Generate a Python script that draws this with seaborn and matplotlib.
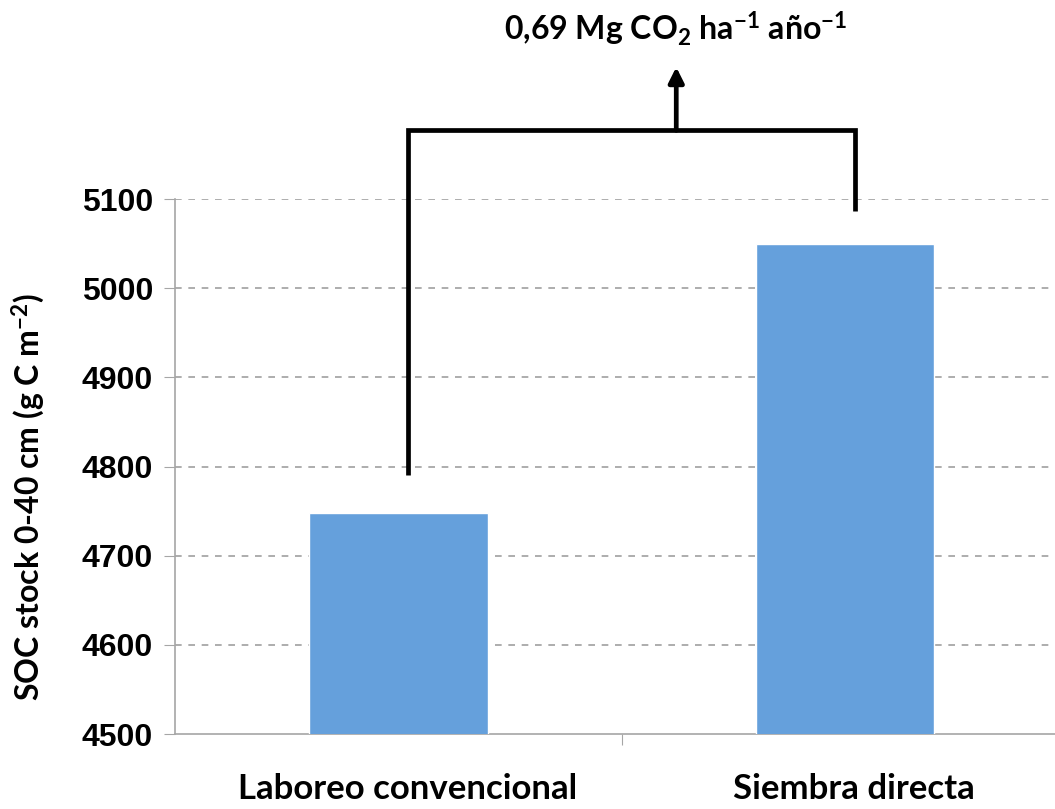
import matplotlib
matplotlib.use("Agg")
import matplotlib.pyplot as plt
import seaborn as sns
import pandas as pd

# data
categories = ["Laboreo convencional", "Siembra directa"]
soc_stock = [4748, 5050]
y_ticks = [4500, 4600, 4700, 4800, 4900, 5000, 5100]

df = pd.DataFrame({"tratamiento": categories, "soc": soc_stock})

sns.set_style("white")
plt.rcParams['font.family'] = ['Lato', 'DejaVu Sans']
plt.rcParams['text.color'] = 'black'
plt.rcParams['axes.labelcolor'] = 'black'
plt.rcParams['ytick.labelcolor'] = 'black'
plt.rcParams['mathtext.fontset'] = 'custom'
plt.rcParams['mathtext.rm'] = 'Lato:bold'
plt.rcParams['mathtext.it'] = 'Lato:bold'
plt.rcParams['mathtext.bf'] = 'Lato:bold'
plt.rcParams['mathtext.default'] = 'rm'

fig = plt.figure(figsize=(10.55, 8.09), dpi=100)
ax = fig.add_axes([0.166, 0.0927, 0.834, 0.6613])

sns.barplot(data=df, x="tratamiento", y="soc", color="#65A0DC",
            saturation=1, width=0.4, ax=ax, zorder=3)

ax.set_ylim(4500, 5100)
ax.set_xlim(-0.5, 1.47)
ax.set_yticks(y_ticks)
ax.set_yticklabels([str(t) for t in y_ticks], family="Liberation Sans",
                   fontweight="bold", fontsize=23, color="black")
ax.set_xticks([0.5])
ax.set_xticklabels([""])
ax.tick_params(axis="y", length=8, color="#A6A6A6", pad=8, left=True)
ax.tick_params(axis="x", length=8, color="#A6A6A6", bottom=True, direction="out")

for t in y_ticks[1:]:
    ax.axhline(t, color="#A0A0A0", linestyle=(0, (4, 4)), linewidth=1.2, zorder=1)

for s in ["top", "right"]:
    ax.spines[s].set_visible(False)
for s in ["left", "bottom"]:
    ax.spines[s].set_color("#A6A6A6")
    ax.spines[s].set_linewidth(1.2)

ax.set_xlabel("")
ax.set_ylabel("SOC stock 0-40 cm (g C m$^{-2}$)", fontsize=23,
              fontweight="bold", color="black")
ax.yaxis.set_label_coords(-0.146, 0.443)

# category labels below the axis
for i, name in enumerate(categories):
    ax.text(i + 0.02, 4500 - 62, name, ha="center", va="center",
            fontsize=25, fontweight="bold", clip_on=False, color="black")

# bracket with arrow
lw = 3.4
ax.plot([0.022, 0.022, 1.022, 1.022], [4790, 5177, 5177, 5087],
        color="black", linewidth=lw, clip_on=False, solid_capstyle="butt",
        solid_joinstyle="miter")
ax.annotate("", xy=(0.622, 5248), xytext=(0.622, 5177),
            arrowprops=dict(arrowstyle="-|>,head_length=0.9,head_width=0.45",
                            color="black", lw=lw, shrinkA=0, shrinkB=0),
            annotation_clip=False)
ax.text(0.622, 5291, "0,69 Mg CO$_2$ ha$^{-1}$ año$^{-1}$", ha="center",
        va="center", fontsize=23, fontweight="bold", clip_on=False, color="black")

fig.savefig("out.png", dpi=100)
